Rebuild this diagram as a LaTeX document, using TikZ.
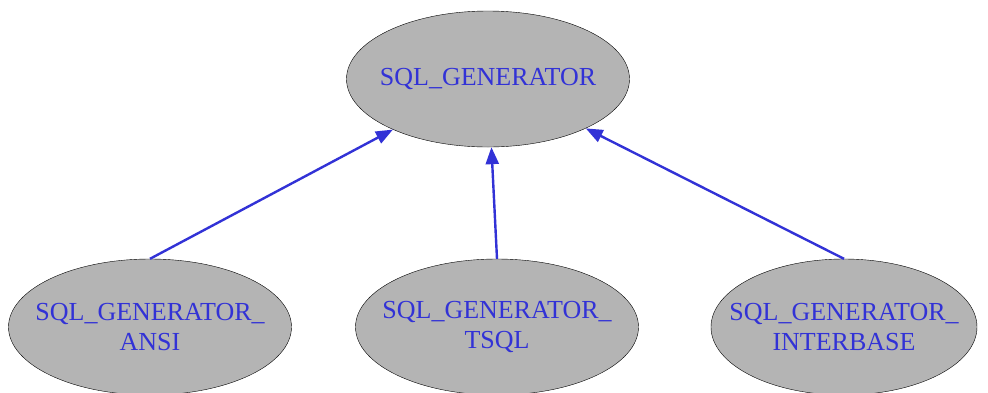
\documentclass[tikz,border=0pt]{standalone}
\usepackage{fontspec}
\setmainfont{Liberation Serif}
\usetikzlibrary{arrows.meta,shapes.geometric}
\definecolor{genblue}{HTML}{3232D6}
\definecolor{gengray}{HTML}{B4B4B4}
\begin{document}
\begin{tikzpicture}[x=1pt, y=1pt,
        every node/.style={draw=black, ellipse, fill=gengray, minimum width=283pt, minimum height=136pt,
            inner xsep=-16pt, inner ysep=0pt, text=genblue, align=center, font=\fontsize{26}{30}\selectfont},
        edge from parent/.style={draw=genblue, line width=2.4pt, {Triangle[length=17pt,width=13pt]}-},
        edge from parent path={(\tikzparentnode) -- (\tikzchildnode.north)},
        level 1/.style={sibling distance=347pt},
        level distance=248pt,
    ]
    \useasboundingbox (0,0) rectangle (988,-392);
    \node (gen) at (488,-79) {SQL\_GENERATOR}
    child{node[xshift=9pt] (ansi) {SQL\_GENERATOR\_\\ANSI}}
    child{node[xshift=9pt] (tsql) {SQL\_GENERATOR\_\\TSQL}}
    child{node[xshift=9pt, minimum width=266pt, inner xsep=-22pt] (interbase) {SQL\_GENERATOR\_\\INTERBASE}}
    ;
\end{tikzpicture}
\end{document}
